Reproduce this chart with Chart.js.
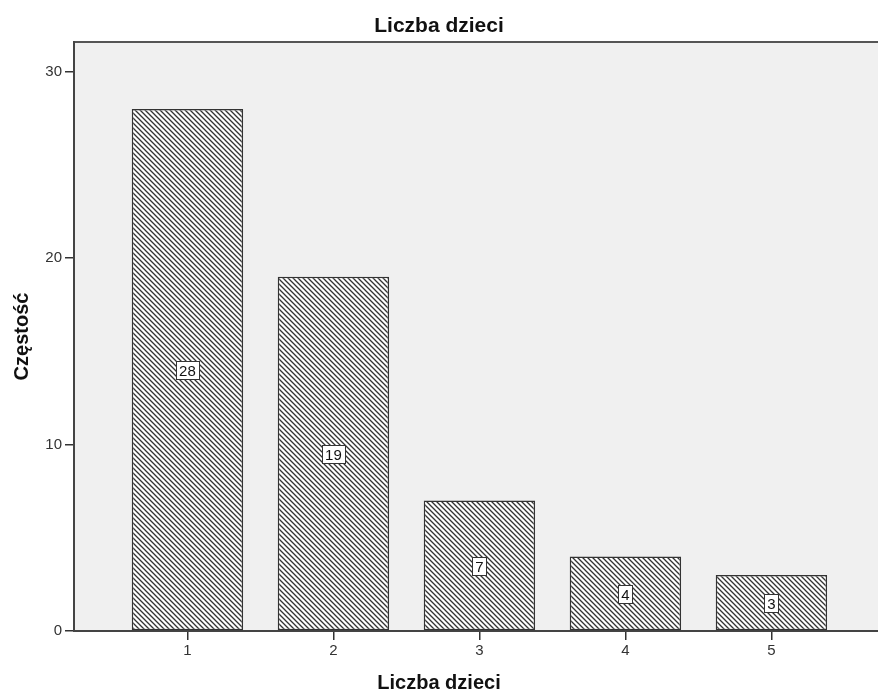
<!DOCTYPE html>
<html>
<head>
<meta charset="utf-8">
<title>Liczba dzieci</title>
<script src="https://cdn.jsdelivr.net/npm/chart.js@4.4.1/dist/chart.umd.min.js"></script>
<style>
  html, body { margin: 0; padding: 0; background: #fff; }
  #wrap { width: 878px; height: 694px; }
</style>
</head>
<body>
<div id="wrap"><canvas id="chart"></canvas></div>
<script>
// Values
const categories = [1, 2, 3, 4, 5];
const counts = [28, 19, 7, 4, 3];
const yTicks = [0, 10, 20, 30];

const chartTitle = 'Liczba dzieci';
const xTitle = 'Liczba dzieci';
const yTitle = 'Częstość';

const FONT = '"Liberation Sans", Arial, sans-serif';

// Diagonal hatch fill (top-left to bottom-right), like the SPSS bars
function makeHatch() {
    const s = 5;
    const c = document.createElement('canvas');
    c.width = s;
    c.height = s;
    const g = c.getContext('2d');
    g.fillStyle = '#fff';
    g.fillRect(0, 0, s, s);
    g.strokeStyle = '#333';
    g.lineWidth = 1.3;
    g.beginPath();
    g.moveTo(-1, -1); g.lineTo(s + 1, s + 1);
    g.moveTo(-1, s - 1); g.lineTo(1, s + 1);
    g.moveTo(s - 1, -1); g.lineTo(s + 1, 1);
    g.stroke();
    return document.getElementById('chart').getContext('2d').createPattern(c, 'repeat');
}

// Grey plot background and the frame line on top
const plotBackground = {
    id: 'plotBackground',
    beforeDraw(chart) {
        const { ctx, chartArea: a } = chart;
        ctx.save();
        ctx.fillStyle = '#fff';
        ctx.fillRect(0, 0, chart.width, chart.height);
        ctx.fillStyle = '#f0f0f0';
        ctx.fillRect(a.left, a.top, a.right - a.left, a.bottom - a.top);
        ctx.strokeStyle = '#555';
        ctx.lineWidth = 2;
        ctx.beginPath();
        ctx.moveTo(a.left, a.top);
        ctx.lineTo(a.right, a.top);
        ctx.stroke();
        ctx.restore();
    }
};

// Boxed count label in the middle of each bar
const valueBoxes = {
    id: 'valueBoxes',
    afterDatasetsDraw(chart) {
        const ctx = chart.ctx;
        const yScale = chart.scales.y;
        chart.getDatasetMeta(0).data.forEach((bar, i) => {
            const text = String(counts[i]);
            const yMid = yScale.getPixelForValue(counts[i] / 2);
            ctx.save();
            ctx.font = '15px ' + FONT;
            const w = Math.round(ctx.measureText(text).width + 6);
            const h = 18;
            const left = Math.round(bar.x - w / 2) + 0.5;
            const top = Math.round(yMid - h / 2) + 0.5;
            ctx.fillStyle = '#fff';
            ctx.fillRect(left, top, w, h);
            ctx.strokeStyle = '#333';
            ctx.lineWidth = 1;
            ctx.strokeRect(left, top, w, h);
            ctx.fillStyle = '#111';
            ctx.textAlign = 'center';
            ctx.textBaseline = 'middle';
            ctx.fillText(text, bar.x, top + h / 2 + 1);
            ctx.restore();
        });
    }
};

const ctx = document.getElementById('chart').getContext('2d');

new Chart(ctx, {
    type: 'bar',
    data: {
        datasets: [{
            data: categories.map((c, i) => ({ x: c, y: counts[i] })),
            backgroundColor: makeHatch(),
            borderColor: '#333',
            borderWidth: 1.5,
            borderSkipped: false,
            barPercentage: 0.763,
            categoryPercentage: 1
        }]
    },
    options: {
        responsive: true,
        maintainAspectRatio: false,
        animation: false,
        layout: { padding: 0 },
        plugins: {
            legend: { display: false },
            tooltip: { enabled: false },
            title: {
                display: true,
                text: chartTitle,
                color: '#111',
                font: { family: FONT, size: 21, weight: 'bold' },
                padding: { top: 13.4, bottom: 3.4 }
            },
            subtitle: {
                display: true,
                position: 'bottom',
                text: xTitle,
                color: '#111',
                font: { family: FONT, size: 20, weight: 'bold' },
                padding: { top: 8, bottom: -1 }
            }
        },
        scales: {
            x: {
                type: 'linear',
                offset: false,
                min: 0.223,
                max: 5.73,
                afterBuildTicks(scale) {
                    scale.ticks = categories.map(v => ({ value: v }));
                },
                afterFit(scale) {
                    scale.height = 32;
                },
                grid: {
                    offset: false,
                    drawOnChartArea: false,
                    drawTicks: true,
                    tickLength: 9,
                    color: '#333',
                    lineWidth: 1.5
                },
                border: { display: true, color: '#444', width: 2 },
                ticks: {
                    color: '#333',
                    padding: 2,
                    font: { family: FONT, size: 15 }
                }
            },
            y: {
                min: 0,
                max: 31.6,
                afterBuildTicks(scale) {
                    scale.ticks = yTicks.map(v => ({ value: v }));
                },
                afterFit(scale) {
                    scale.width = 74;
                },
                grid: {
                    drawOnChartArea: false,
                    drawTicks: true,
                    tickLength: 9,
                    color: '#333',
                    lineWidth: 1.5
                },
                border: { display: true, color: '#444', width: 2 },
                ticks: {
                    color: '#333',
                    padding: 3,
                    font: { family: FONT, size: 15 }
                },
                title: {
                    display: true,
                    text: yTitle,
                    color: '#111',
                    font: { family: FONT, size: 20, weight: 'bold' },
                    padding: { top: 10, bottom: 0 }
                }
            }
        }
    },
    plugins: [plotBackground, valueBoxes]
});
</script>
</body>
</html>
